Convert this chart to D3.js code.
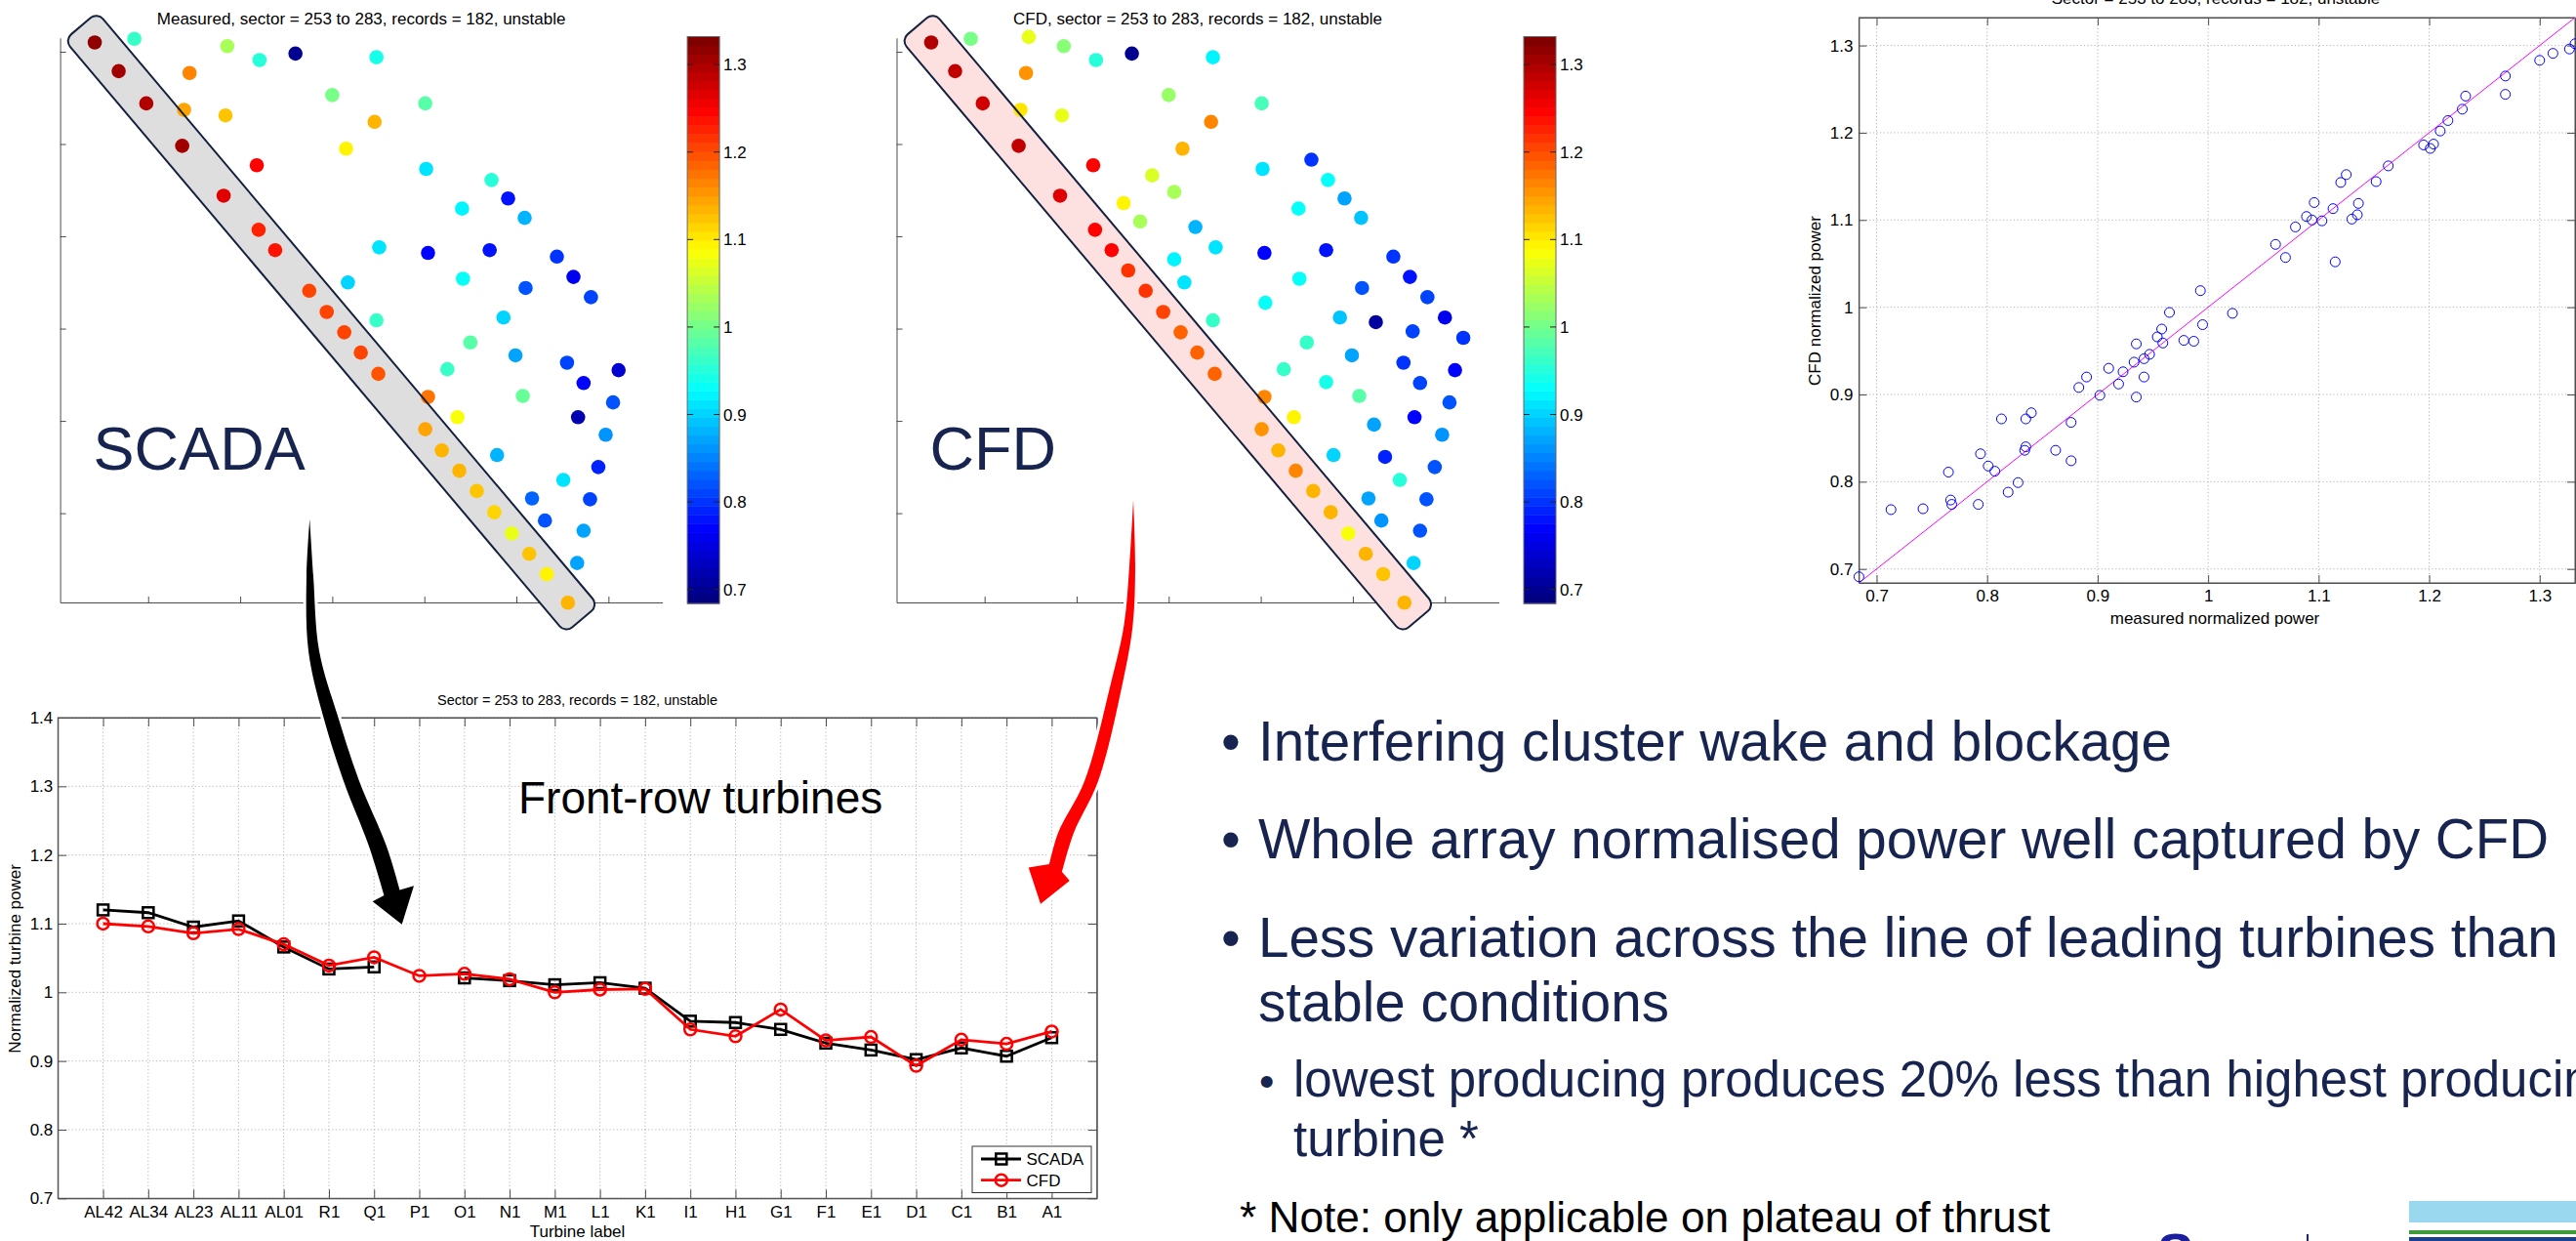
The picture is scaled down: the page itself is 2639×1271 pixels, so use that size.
<!DOCTYPE html>
<html>
<head>
<meta charset="utf-8">
<script src="https://cdn.jsdelivr.net/npm/d3@7"></script>
<style>
	body { margin: 0; background: #fff; }
	svg { display: block; font-family: "Liberation Sans", Arial, Helvetica, sans-serif; }
</style>
</head>
<body>
<script>
// Front-row turbines (line chart)
const frontLabels = ['AL42', 'AL34', 'AL23', 'AL11', 'AL01', 'R1', 'Q1', 'P1', 'O1', 'N1', 'M1',
	'L1', 'K1', 'I1', 'H1', 'G1', 'F1', 'E1', 'D1', 'C1', 'B1', 'A1'];
const frontScada = [1.120, 1.116, 1.095, 1.104, 1.066, 1.034, 1.037, null, 1.021, 1.017, 1.011,
	1.014, 1.006, 0.958, 0.956, 0.946, 0.926, 0.916, 0.902, 0.919, 0.907, 0.934];
const frontCfd = [1.100, 1.096, 1.086, 1.092, 1.070, 1.039, 1.051, 1.024, 1.027, 1.019, 1.000,
	1.004, 1.005, 0.946, 0.936, 0.975, 0.930, 0.935, 0.893, 0.931, 0.925, 0.943];
const lineTicksY = [0.7, 0.8, 0.9, 1.0, 1.1, 1.2, 1.3, 1.4];

// Turbine layout (first 22 are the front row, AL42 ... A1)
const frontCount = 22;
const turbineX = [0.42, 0.68, 0.98, 1.37, 1.82, 2.20, 2.38, 2.56, 2.75, 2.94, 3.13, 3.31, 3.50, 4.01, 4.19, 4.38, 4.57, 4.76, 4.95, 5.14, 5.33, 5.56,
	0.85, 1.48, 1.86, 2.21, 2.60, 3.48, 1.45, 3.00, 4.01, 1.39, 1.84, 3.46, 3.15, 4.55, 2.18, 4.02, 2.82, 4.73, 3.06, 4.91,
	2.51, 4.41, 5.09, 2.69, 3.29, 3.51, 4.04, 4.71, 5.44, 3.06, 3.17, 4.42, 5.10, 5.62, 5.81, 4.05, 4.86, 5.25, 6.00, 3.48,
	5.65, 6.20, 4.50, 4.99, 5.55, 6.11, 4.25, 4.71, 5.73, 4.04, 5.07, 6.05, 4.36, 5.67, 5.23, 5.97, 4.79, 5.35, 5.89, 5.51,
	5.17, 5.80, 5.31, 5.73, 5.66];
const turbineY = [6.10, 5.79, 5.44, 4.98, 4.44, 4.07, 3.85, 3.63, 3.41, 3.18, 2.96, 2.74, 2.51, 1.91, 1.68, 1.46, 1.24, 1.01, 0.78, 0.56, 0.34, 0.03,
	6.14, 6.16, 6.06, 5.91, 5.98, 5.94, 5.77, 5.53, 5.44, 5.37, 5.31, 5.24, 4.95, 4.83, 4.77, 4.73, 4.66, 4.61, 4.48, 4.41,
	4.36, 4.30, 4.20, 4.16, 4.10, 3.88, 3.82, 3.85, 3.78, 3.75, 3.50, 3.54, 3.44, 3.56, 3.34, 3.28, 3.12, 3.07, 3.12, 3.09,
	2.97, 2.90, 2.85, 2.71, 2.63, 2.55, 2.56, 2.42, 2.41, 2.26, 2.27, 2.20, 2.04, 2.04, 1.96, 1.85, 1.63, 1.61, 1.50, 1.36,
	1.16, 1.15, 0.92, 0.81, 0.46];
const mapScada = [1.32, 1.31, 1.30, 1.31, 1.27, 1.23, 1.24, null, 1.21, 1.21, 1.21, 1.21, 1.20, 1.14, 1.13, 1.13, 1.12, 1.11, 1.07, 1.12, 1.09, 1.13,
	0.96, null, 1.03, 0.95, 0.70, 0.94, 1.17, 1.00, 0.98, 1.14, 1.12, 1.13, 1.09, null, 1.25, 0.91, null, 0.95, null, 0.78,
	null, 0.92, 0.88, null, null, 0.91, 0.77, 0.78, 0.80, null, 0.90, 0.93, 0.82, 0.76, 0.81, null, 0.90, null, null, 0.96,
	null, null, 0.98, 0.87, 0.81, 0.74, 0.96, null, 0.77, 1.18, 0.99, 0.82, 1.08, 0.72, null, 0.86, 0.88, null, 0.79, 0.91,
	0.83, 0.81, 0.82, 0.87, 0.87];
const mapCfd = [1.30, 1.29, 1.28, 1.29, 1.27, 1.25, 1.25, 1.22, 1.22, 1.21, 1.19, 1.19, 1.19, 1.15, 1.13, 1.17, 1.13, 1.13, 1.08, 1.13, 1.12, 1.13,
	1.00, 1.07, 1.01, 0.95, 0.70, 0.92, 1.15, 1.02, 0.97, 1.10, 1.07, 1.16, 1.13, 0.80, 1.25, 0.91, 1.06, 0.93, 1.03, 0.87,
	1.09, 0.93, 0.89, 1.03, 0.88, 0.91, 0.77, 0.78, 0.80, 0.92, 0.91, 0.93, 0.82, 0.78, 0.81, 0.93, 0.89, 0.71, 0.76, 0.96,
	0.81, 0.80, 0.96, 0.87, 0.80, 0.77, 0.96, 0.94, 0.81, 1.17, 0.98, 0.82, 1.09, 0.77, 0.87, 0.86, 0.90, 0.79, 0.82, 0.95,
	0.87, 0.82, 0.86, 0.82, 0.90];
const mapTicks = [1, 2, 3, 4, 5, 6];
const colorDomain = [0.684, 1.332];
const colorTicks = [0.7, 0.8, 0.9, 1.0, 1.1, 1.2, 1.3];

// Measured vs CFD scatter
const scatterMeasured = [0.684, 0.713, 0.742, 0.765, 0.767, 0.768, 0.792, 0.794, 0.801, 0.807, 0.813, 0.819, 0.828, 0.834,
	0.835, 0.835, 0.840, 0.862, 0.876, 0.876, 0.883, 0.890, 0.902, 0.910, 0.919, 0.923, 0.933, 0.935, 0.935, 0.942,
	0.942, 0.947, 0.954, 0.959, 0.958, 0.965, 0.978, 0.987, 0.993, 0.995, 1.022, 1.061, 1.070, 1.079, 1.089, 1.094,
	1.096, 1.103, 1.113, 1.115, 1.120, 1.125, 1.130, 1.135, 1.136, 1.152, 1.163, 1.195, 1.201, 1.204, 1.210, 1.217,
	1.230, 1.233, 1.269, 1.269, 1.300, 1.312, 1.327, 1.332];
const scatterCfd = [0.691, 0.768, 0.769, 0.811, 0.779, 0.774, 0.774, 0.832, 0.818, 0.812, 0.872, 0.788, 0.799, 0.836,
	0.840, 0.872, 0.879, 0.836, 0.868, 0.824, 0.908, 0.920, 0.899, 0.930, 0.912, 0.926, 0.937, 0.897, 0.958, 0.920,
	0.941, 0.946, 0.966, 0.959, 0.975, 0.994, 0.962, 0.961, 1.019, 0.980, 0.993, 1.072, 1.057, 1.092, 1.104, 1.100,
	1.120, 1.099, 1.113, 1.052, 1.143, 1.152, 1.101, 1.106, 1.119, 1.144, 1.162, 1.186, 1.182, 1.187, 1.202, 1.214,
	1.227, 1.242, 1.265, 1.244, 1.283, 1.291, 1.296, 1.302];
const scatterTicks = [0.7, 0.8, 0.9, 1.0, 1.1, 1.2, 1.3];

const W = 2639, H = 1271;
const navy = '#16244f';
const axisColor = '#4d4d4d';
const gridColor = '#b4b4b4';
const fmt = d => d === 1 ? '1' : d3.format('.1f')(d);

const svg = d3.select('body').append('svg')
	.attr('width', W)
	.attr('height', H);

// MATLAB style jet colormap, 64 levels
function jetColor(t) {
	const c = v => Math.round(255 * Math.max(0, Math.min(1, 1.5 - Math.abs(v))));
	return `rgb(${c(4 * t - 3)},${c(4 * t - 2)},${c(4 * t - 1)})`;
}
const jet = d3.scaleQuantize()
	.domain(colorDomain)
	.range(d3.range(64).map(i => jetColor(i / 63)));

function styleAxis(g) {
	g.selectAll('path, line').attr('stroke', axisColor);
	g.selectAll('text').attr('fill', '#000').style('font-size', '17px');
	g.attr('font-family', null).attr('font-size', null);
}

function drawMap(left, title, values, boxFill, label) {
	const g = svg.append('g');
	const x = d3.scaleLinear().domain([0.044, 6.586]).range([left, left + 617]);
	const y = d3.scaleLinear().domain([0.033, 6.15]).range([617, 38.8]);

	g.append('text')
		.attr('x', left + 308.5).attr('y', 25)
		.attr('text-anchor', 'middle')
		.style('font-size', '17px')
		.text(title);

	g.append('g')
		.attr('transform', 'translate(0,617)')
		.call(d3.axisBottom(x).tickValues(mapTicks).tickFormat('').tickSizeInner(-6).tickSizeOuter(0))
		.call(styleAxis);
	g.append('g')
		.attr('transform', `translate(${left},0)`)
		.call(d3.axisLeft(y).tickValues(mapTicks).tickFormat('').tickSizeInner(-6).tickSizeOuter(0))
		.call(styleAxis);

	g.append('text')
		.attr('x', left + 34).attr('y', 481)
		.attr('fill', navy)
		.style('font-size', '63px')
		.text(label);

	// highlight box round the front row
	const p0 = [x(turbineX[0]), y(turbineY[0])];
	const p1 = [x(turbineX[frontCount - 1]), y(turbineY[frontCount - 1])];
	const ang = Math.atan2(p1[1] - p0[1], p1[0] - p0[0]) * 180 / Math.PI;
	const len = Math.hypot(p1[0] - p0[0], p1[1] - p0[1]);
	const pad = 22, bw = 44;
	const box = sel => sel.append('rect')
		.attr('x', -pad).attr('y', -bw / 2)
		.attr('width', len + 2 * pad).attr('height', bw)
		.attr('rx', 9)
		.attr('transform', `translate(${p0[0]},${p0[1]}) rotate(${ang})`);

	box(g).attr('fill', boxFill);

	g.selectAll('circle.turbine')
		.data(d3.range(turbineX.length).filter(i => values[i] != null))
		.join('circle')
		.attr('class', 'turbine')
		.attr('cx', i => x(turbineX[i]))
		.attr('cy', i => y(turbineY[i]))
		.attr('r', 7.3)
		.attr('fill', i => jet(values[i]));

	box(g).attr('fill', 'none').attr('stroke', '#14213f').attr('stroke-width', 2);

	// colorbar
	const cbLeft = left + 642.5, cbW = 33;
	const cy = d3.scaleLinear().domain(colorDomain).range([618, 37.5]);
	const step = (colorDomain[1] - colorDomain[0]) / 64;
	g.selectAll('rect.band')
		.data(d3.range(64))
		.join('rect')
		.attr('class', 'band')
		.attr('x', cbLeft)
		.attr('y', i => cy(colorDomain[0] + (i + 1) * step))
		.attr('width', cbW)
		.attr('height', i => cy(colorDomain[0] + i * step) - cy(colorDomain[0] + (i + 1) * step) + 0.5)
		.attr('fill', i => jet(colorDomain[0] + (i + 0.5) * step));
	g.append('rect')
		.attr('x', cbLeft).attr('y', 37.5)
		.attr('width', cbW).attr('height', 580.5)
		.attr('fill', 'none').attr('stroke', '#666');
	const cb = g.append('g');
	colorTicks.forEach(v => {
		cb.append('line').attr('x1', cbLeft).attr('x2', cbLeft + 6).attr('y1', cy(v)).attr('y2', cy(v)).attr('stroke', '#222');
		cb.append('line').attr('x1', cbLeft + cbW - 6).attr('x2', cbLeft + cbW).attr('y1', cy(v)).attr('y2', cy(v)).attr('stroke', '#222');
		cb.append('text')
			.attr('x', cbLeft + cbW + 4).attr('y', cy(v))
			.attr('dy', '0.36em')
			.style('font-size', '17px')
			.text(fmt(v));
	});
}

drawMap(61.6, 'Measured, sector = 253 to 283, records = 182, unstable', mapScada, '#dedede', 'SCADA');
drawMap(918.5, 'CFD, sector = 253 to 283, records = 182, unstable', mapCfd, '#fde0e0', 'CFD');

// Scatter: measured vs CFD
(function () {
	const g = svg.append('g');
	const x = d3.scaleLinear().domain(colorDomain).range([1904.4, 2638]);
	const y = d3.scaleLinear().domain(colorDomain).range([597, 18]);

	g.selectAll('line.gx').data(scatterTicks).join('line')
		.attr('x1', d => x(d)).attr('x2', d => x(d)).attr('y1', 18).attr('y2', 597)
		.attr('stroke', gridColor).attr('stroke-dasharray', '1.2,2.4');
	g.selectAll('line.gy').data(scatterTicks).join('line')
		.attr('y1', d => y(d)).attr('y2', d => y(d)).attr('x1', 1904.4).attr('x2', 2638)
		.attr('stroke', gridColor).attr('stroke-dasharray', '1.2,2.4');

	g.append('rect')
		.attr('x', 1904.4).attr('y', 18).attr('width', 2638 - 1904.4).attr('height', 579)
		.attr('fill', 'none').attr('stroke', axisColor);

	g.append('g').attr('transform', 'translate(0,597)')
		.call(d3.axisBottom(x).tickValues(scatterTicks).tickFormat(fmt).tickSizeInner(-8).tickSizeOuter(0).tickPadding(7))
		.call(styleAxis);
	g.append('g').attr('transform', 'translate(0,18)')
		.call(d3.axisTop(x).tickValues(scatterTicks).tickFormat('').tickSizeInner(-8).tickSizeOuter(0))
		.call(styleAxis);
	g.append('g').attr('transform', 'translate(1904.4,0)')
		.call(d3.axisLeft(y).tickValues(scatterTicks).tickFormat(fmt).tickSizeInner(-8).tickSizeOuter(0).tickPadding(6))
		.call(styleAxis);
	g.append('g').attr('transform', 'translate(2638,0)')
		.call(d3.axisRight(y).tickValues(scatterTicks).tickFormat('').tickSizeInner(-8).tickSizeOuter(0))
		.call(styleAxis);

	g.append('line')
		.attr('x1', x(colorDomain[0])).attr('y1', y(colorDomain[0]))
		.attr('x2', x(colorDomain[1])).attr('y2', y(colorDomain[1]))
		.attr('stroke', '#ff00ff').attr('stroke-width', 1);

	g.selectAll('circle').data(scatterMeasured).join('circle')
		.attr('cx', d => x(d))
		.attr('cy', (d, i) => y(scatterCfd[i]))
		.attr('r', 5)
		.attr('fill', 'none').attr('stroke', '#0000ff').attr('stroke-width', 1);

	g.append('text')
		.attr('x', 2270).attr('y', 4)
		.attr('text-anchor', 'middle').style('font-size', '17px')
		.text('Sector = 253 to 283, records = 182, unstable');
	g.append('text')
		.attr('x', 2269).attr('y', 639)
		.attr('text-anchor', 'middle').style('font-size', '17px')
		.text('measured normalized power');
	g.append('text')
		.attr('transform', 'translate(1865,308) rotate(-90)')
		.attr('text-anchor', 'middle').style('font-size', '17px')
		.text('CFD normalized power');
})();

// Line chart of front-row turbines
(function () {
	const g = svg.append('g');
	const left = 59.3, right = 1123.7, top = 735, bottom = 1227.3;
	const x = d3.scaleLinear().domain([0, 23]).range([left, right]);
	const y = d3.scaleLinear().domain([0.7, 1.4]).range([bottom, top]);
	const cats = d3.range(1, frontLabels.length + 1);

	g.selectAll('line.gx').data(cats).join('line')
		.attr('x1', d => x(d)).attr('x2', d => x(d)).attr('y1', top).attr('y2', bottom)
		.attr('stroke', gridColor).attr('stroke-dasharray', '1.2,2.4');
	g.selectAll('line.gy').data(lineTicksY).join('line')
		.attr('y1', d => y(d)).attr('y2', d => y(d)).attr('x1', left).attr('x2', right)
		.attr('stroke', gridColor).attr('stroke-dasharray', '1.2,2.4');
	g.append('rect')
		.attr('x', left).attr('y', top).attr('width', right - left).attr('height', bottom - top)
		.attr('fill', 'none').attr('stroke', axisColor);

	g.append('g').attr('transform', `translate(0,${bottom})`)
		.call(d3.axisBottom(x).tickValues(cats).tickFormat(i => frontLabels[i - 1]).tickSizeInner(-9).tickSizeOuter(0).tickPadding(8))
		.call(styleAxis);
	g.append('g').attr('transform', `translate(0,${top})`)
		.call(d3.axisTop(x).tickValues(cats).tickFormat('').tickSizeInner(-9).tickSizeOuter(0))
		.call(styleAxis);
	g.append('g').attr('transform', `translate(${left},0)`)
		.call(d3.axisLeft(y).tickValues(lineTicksY).tickFormat(fmt).tickSizeInner(-9).tickSizeOuter(0).tickPadding(5))
		.call(styleAxis);
	g.append('g').attr('transform', `translate(${right},0)`)
		.call(d3.axisRight(y).tickValues(lineTicksY).tickFormat('').tickSizeInner(-9).tickSizeOuter(0))
		.call(styleAxis);

	const line = d3.line()
		.defined(d => d.v != null)
		.x(d => x(d.i))
		.y(d => y(d.v));
	const scada = frontScada.map((v, k) => ({i: k + 1, v}));
	const cfd = frontCfd.map((v, k) => ({i: k + 1, v}));

	g.append('path').attr('d', line(scada))
		.attr('fill', 'none').attr('stroke', '#000').attr('stroke-width', 2.8);
	g.selectAll('rect.sq').data(scada.filter(d => d.v != null)).join('rect')
		.attr('class', 'sq')
		.attr('x', d => x(d.i) - 5.5).attr('y', d => y(d.v) - 5.5)
		.attr('width', 11).attr('height', 11)
		.attr('fill', 'none').attr('stroke', '#000').attr('stroke-width', 2.5);

	g.append('path').attr('d', line(cfd))
		.attr('fill', 'none').attr('stroke', '#ff0000').attr('stroke-width', 2.8);
	g.selectAll('circle.ci').data(cfd).join('circle')
		.attr('class', 'ci')
		.attr('cx', d => x(d.i)).attr('cy', d => y(d.v))
		.attr('r', 6)
		.attr('fill', 'none').attr('stroke', '#ff0000').attr('stroke-width', 2.5);

	// legend
	const lg = g.append('g');
	lg.append('rect').attr('x', 996).attr('y', 1174).attr('width', 122).attr('height', 47.5)
		.attr('fill', '#fff').attr('stroke', '#333');
	lg.append('line').attr('x1', 1005).attr('x2', 1046).attr('y1', 1187).attr('y2', 1187)
		.attr('stroke', '#000').attr('stroke-width', 2.8);
	lg.append('rect').attr('x', 1020.3).attr('y', 1181.5).attr('width', 11).attr('height', 11)
		.attr('fill', 'none').attr('stroke', '#000').attr('stroke-width', 2.5);
	lg.append('text').attr('x', 1051.5).attr('y', 1187).attr('dy', '0.36em').style('font-size', '17px').text('SCADA');
	lg.append('line').attr('x1', 1005).attr('x2', 1046).attr('y1', 1208.7).attr('y2', 1208.7)
		.attr('stroke', '#ff0000').attr('stroke-width', 2.8);
	lg.append('circle').attr('cx', 1025.8).attr('cy', 1208.7).attr('r', 6)
		.attr('fill', 'none').attr('stroke', '#ff0000').attr('stroke-width', 2.5);
	lg.append('text').attr('x', 1051.5).attr('y', 1208.7).attr('dy', '0.36em').style('font-size', '17px').text('CFD');

	g.append('text')
		.attr('x', (left + right) / 2).attr('y', 722)
		.attr('text-anchor', 'middle').style('font-size', '14.5px')
		.text('Sector = 253 to 283, records = 182, unstable');
	g.append('text')
		.attr('x', (left + right) / 2).attr('y', 1267)
		.attr('text-anchor', 'middle').style('font-size', '17px')
		.text('Turbine label');
	g.append('text')
		.attr('transform', 'translate(21,982) rotate(-90)')
		.attr('text-anchor', 'middle').style('font-size', '17px')
		.text('Normalized turbine power');
	g.append('text')
		.attr('x', 531).attr('y', 833)
		.style('font-size', '46px')
		.text('Front-row turbines');
})();

// Curved annotation arrows
function arrow(leftEdge, head, rightEdge, color) {
	const edge = d3.line().curve(d3.curveCatmullRom.alpha(0.5));
	const d = edge(leftEdge) + 'L' + head.map(p => p.join(',')).join('L') + 'L' + edge(rightEdge).slice(1) + 'Z';
	svg.append('path')
		.attr('d', d)
		.attr('fill', color)
		.attr('stroke', '#fff').attr('stroke-width', 6)
		.attr('stroke-linejoin', 'round')
		.attr('paint-order', 'stroke');
}
arrow(
	[[317.3, 531.7], [314, 590], [316, 666.7], [331, 733.3], [352, 800], [378, 866.7], [393.5, 917]],
	[[381.7, 923.3], [411.7, 946.7], [424, 907.3]],
	[[409.5, 911.5], [396, 866.7], [368, 800], [346, 733.3], [327, 666.7], [321, 590], [317.3, 531.7]],
	'#000'
);
arrow(
	[[1161, 512], [1157, 580], [1151.5, 640], [1138, 700], [1111, 800], [1084, 853], [1075, 885]],
	[[1053.7, 888.6], [1066, 925.8], [1095.8, 902.1]],
	[[1088, 893], [1100, 853], [1125, 800], [1150, 700], [1160.5, 640], [1163, 580], [1161, 512]],
	'#ff0000'
);

// Slide text
const txt = svg.append('g').attr('fill', navy);
function put(x, y, size, s, color) {
	txt.append('text').attr('x', x).attr('y', y)
		.attr('fill', color || navy)
		.style('font-size', size + 'px')
		.text(s);
}
put(1251, 779, 56.5, '•');
put(1289, 779, 56.5, 'Interfering cluster wake and blockage');
put(1251, 879, 56.5, '•');
put(1289, 879, 56.5, 'Whole array normalised power well captured by CFD');
put(1251, 980, 56.5, '•');
put(1289, 980, 56.5, 'Less variation across the line of leading turbines than');
put(1289, 1046, 56.5, 'stable conditions');
put(1290, 1123, 44, '•');
put(1325, 1123, 51, 'lowest producing produces 20% less than highest producing');
put(1325, 1184, 51, 'turbine *');
put(1270, 1262, 44.2, '* Note: only applicable on plateau of thrust', '#000');

// Logo strip (bottom right, cut off by the slide edge)
svg.append('defs').append('clipPath').attr('id', 'logo-clip')
	.append('rect').attr('x', 2200).attr('y', 1250).attr('width', 165).attr('height', 21);
svg.append('text')
	.attr('x', 2210).attr('y', 1302)
	.attr('clip-path', 'url(#logo-clip)')
	.attr('fill', '#1a1f9c')
	.style('font-size', '56px').style('font-weight', 'bold')
	.text('SgurrEnergy');
svg.append('rect').attr('x', 2468).attr('y', 1230).attr('width', 171).attr('height', 22).attr('fill', '#99d8ef');
svg.append('rect').attr('x', 2468).attr('y', 1260).attr('width', 171).attr('height', 4).attr('fill', '#3f9a3a');
svg.append('rect').attr('x', 2468).attr('y', 1267).attr('width', 171).attr('height', 4).attr('fill', '#1b3f8f');
</script>
</body>
</html>
